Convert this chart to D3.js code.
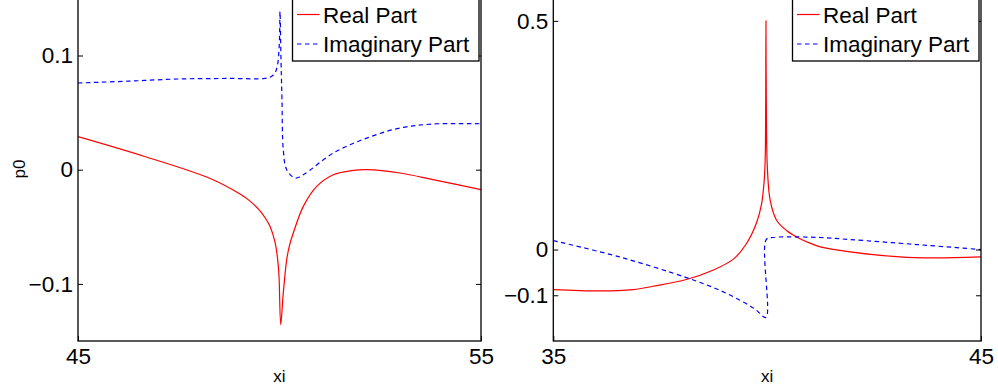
<!DOCTYPE html>
<html><head>
<meta charset="utf-8">
<script src="https://cdn.jsdelivr.net/npm/d3@7"></script>
<style>
  body { margin: 0; background: #fff; }
  text { font-family: "Liberation Sans", Arial, Helvetica, sans-serif; fill: #000; }
  .tick text { font-size: 22.5px; }
  .lbl { font-size: 17px; }
  .leg { font-size: 22.5px; }
</style>
</head>
<body>
<svg id="chart" width="998" height="392"></svg>
<script>
// ---- data ----
// left panel, xi 45..55
const leftRealX = [45, 46.655, 48.308, 49.02, 49.27, 49.516, 49.65, 49.764, 49.888, 49.955, 49.988, 50.03, 50.094, 50.179, 50.25, 50.342, 50.591, 50.923, 51.335, 51.831, 52.164, 52.99, 53.81, 55];
const leftRealY = [0.029, 0.0116, -0.0081, -0.0213, -0.0275, -0.036, -0.0425, -0.0496, -0.0635, -0.0787, -0.0935, -0.1356, -0.1079, -0.0787, -0.066, -0.0554, -0.0321, -0.0146, -0.0044, -0.0006, 0, -0.0029, -0.0087, -0.0175];
const leftImagX = [45, 46.24, 47.48, 48.77, 49.633, 49.797, 49.888, 49.945, 49.995, 50.012, 50.037, 50.062, 50.094, 50.179, 50.385, 50.591, 51.335, 52.164, 52.99, 53.816, 55];
const leftImagY = [0.0759, 0.0775, 0.0794, 0.0799, 0.0799, 0.0816, 0.0849, 0.0904, 0.1094, 0.1385, 0.0962, 0.0612, 0.0175, 0.0, -0.0073, -0.0044, 0.0146, 0.0277, 0.0365, 0.04, 0.0402];

// right panel, xi 35..45
const rightRealX = [35, 36.09, 36.87, 37.33, 38.11, 38.73, 39.21, 39.51, 39.75, 39.87, 39.93, 39.955, 39.966, 39.972, 39.98, 40.004, 40.07, 40.22, 40.46, 40.7, 41.0, 41.24, 41.94, 43.1, 43.88, 45];
const rightRealY = [-0.0875, -0.0906, -0.0875, -0.0803, -0.0656, -0.0453, -0.021, 0.012, 0.058, 0.1, 0.15, 0.2, 0.3267, 0.5, 0.3267, 0.1807, 0.1079, 0.064, 0.041, 0.027, 0.014, 0.0057, -0.0053, -0.0162, -0.0184, -0.0162];
const rightImagX = [35, 36.55, 38.11, 38.89, 39.51, 39.75, 39.972, 39.978, 40.14, 40.46, 41.24, 41.94, 43.5, 45];
const rightImagY = [0.0195, -0.0162, -0.0613, -0.0891, -0.1182, -0.1328, -0.1488, 0.0219, 0.0263, 0.0276, 0.0263, 0.0219, 0.0109, 0.0];

const leftXTicks = [45, 55];
const leftYTicks = [-0.1, 0, 0.1];
const rightXTicks = [35, 45];
const rightYTicks = [-0.1, 0, 0.5];
const legendNames = ["Real Part", "Imaginary Part"];

const svg = d3.select("#chart");
svg.append("rect").attr("width", 998).attr("height", 392).attr("fill", "#fff");

function panel(opt) {
  const x = d3.scaleLinear().domain(opt.xDomain).range([opt.x0, opt.x1]);
  const y = d3.scaleLinear().domain(opt.yDomain).range([341, opt.yTop]);
  const g = svg.append("g");

  const clipId = "clip" + opt.id;
  svg.append("clipPath").attr("id", clipId)
    .append("rect").attr("x", opt.x0).attr("y", opt.yTop).attr("width", opt.x1 - opt.x0).attr("height", 341 - opt.yTop);

  const line = d3.line().x(d => x(d[0])).y(d => y(d[1])).curve(d3.curveCatmullRom.alpha(0.5));
  const real = opt.realX.map((v, i) => [v, opt.realY[i]]);
  const imag = opt.imagX.map((v, i) => [v, opt.imagY[i]]);

  g.append("path").datum(real).attr("clip-path", `url(#${clipId})`)
    .attr("d", line).attr("fill", "none").attr("stroke", "#ff0000").attr("stroke-width", 1.2);
  g.append("path").datum(imag).attr("clip-path", `url(#${clipId})`)
    .attr("d", line).attr("fill", "none").attr("stroke", "#0000ff").attr("stroke-width", 1.2)
    .attr("stroke-dasharray", "4.5,3.5");

  // axes, ticks inward
  const left = d3.axisLeft(y).tickValues(opt.yTicks).tickSize(-5).tickPadding(5).tickFormat(d3.format(".1~f"));
  g.append("g").attr("transform", `translate(${opt.x0},0)`).call(left)
    .call(s => s.select(".domain").remove());
  const right = d3.axisRight(y).tickValues(opt.yTicks).tickSize(-5).tickFormat("");
  g.append("g").attr("transform", `translate(${opt.x1},0)`).call(right)
    .call(s => s.select(".domain").remove());
  const bottom = d3.axisBottom(x).tickValues(opt.xTicks).tickSize(-5).tickPadding(7).tickFormat(d3.format("d"));
  g.append("g").attr("transform", "translate(0,341)").call(bottom)
    .call(s => s.select(".domain").remove());
  g.selectAll(".tick line").attr("stroke", "#000").attr("stroke-width", 1);
  g.selectAll(".tick text").attr("fill", "#000").attr("font-family", null).attr("font-size", null)
    .text(function() { return this.textContent.replace("-", "\u2212"); });

  g.append("rect").attr("x", opt.x0).attr("y", opt.yTop).attr("width", opt.x1 - opt.x0).attr("height", 341 - opt.yTop)
    .attr("fill", "none").attr("stroke", "#000").attr("stroke-width", 1.3);

  g.append("text").attr("class", "lbl").attr("x", (opt.x0 + opt.x1) / 2).attr("y", 382)
    .attr("text-anchor", "middle").text("xi");
  if (opt.yLabel) {
    g.append("text").attr("class", "lbl").attr("transform", "translate(25,169)rotate(-90)")
      .attr("text-anchor", "middle").text(opt.yLabel);
  }

  // legend
  const lx = opt.x1 - 188.5, lw = 186.5;
  const leg = g.append("g");
  leg.append("rect").attr("x", lx).attr("y", -1).attr("width", lw).attr("height", 62)
    .attr("fill", "#fff").attr("stroke", "#000").attr("stroke-width", 1.3);
  legendNames.forEach((name, i) => {
    const ly = 14.5 + i * 29.5;
    leg.append("line").attr("x1", lx + 4.5).attr("x2", lx + 27).attr("y1", ly).attr("y2", ly)
      .attr("stroke", i === 0 ? "#ff0000" : "#0000ff").attr("stroke-width", 1.2)
      .attr("stroke-dasharray", i === 0 ? null : "4.5,3.5");
    leg.append("text").attr("class", "leg").attr("x", lx + 30.5).attr("y", ly + 8).text(name);
  });
}

panel({ id: 1, x0: 78, x1: 481, xDomain: [45, 55], yDomain: [-0.15, 0.15], yTop: -1.6,
  realX: leftRealX, realY: leftRealY, imagX: leftImagX, imagY: leftImagY,
  xTicks: leftXTicks, yTicks: leftYTicks, yLabel: "p0" });
panel({ id: 2, x0: 553.3, x1: 981, xDomain: [35, 45], yDomain: [-0.2, 0.55], yTop: -2,
  realX: rightRealX, realY: rightRealY, imagX: rightImagX, imagY: rightImagY,
  xTicks: rightXTicks, yTicks: rightYTicks, yLabel: null });
</script>
</body>
</html>
